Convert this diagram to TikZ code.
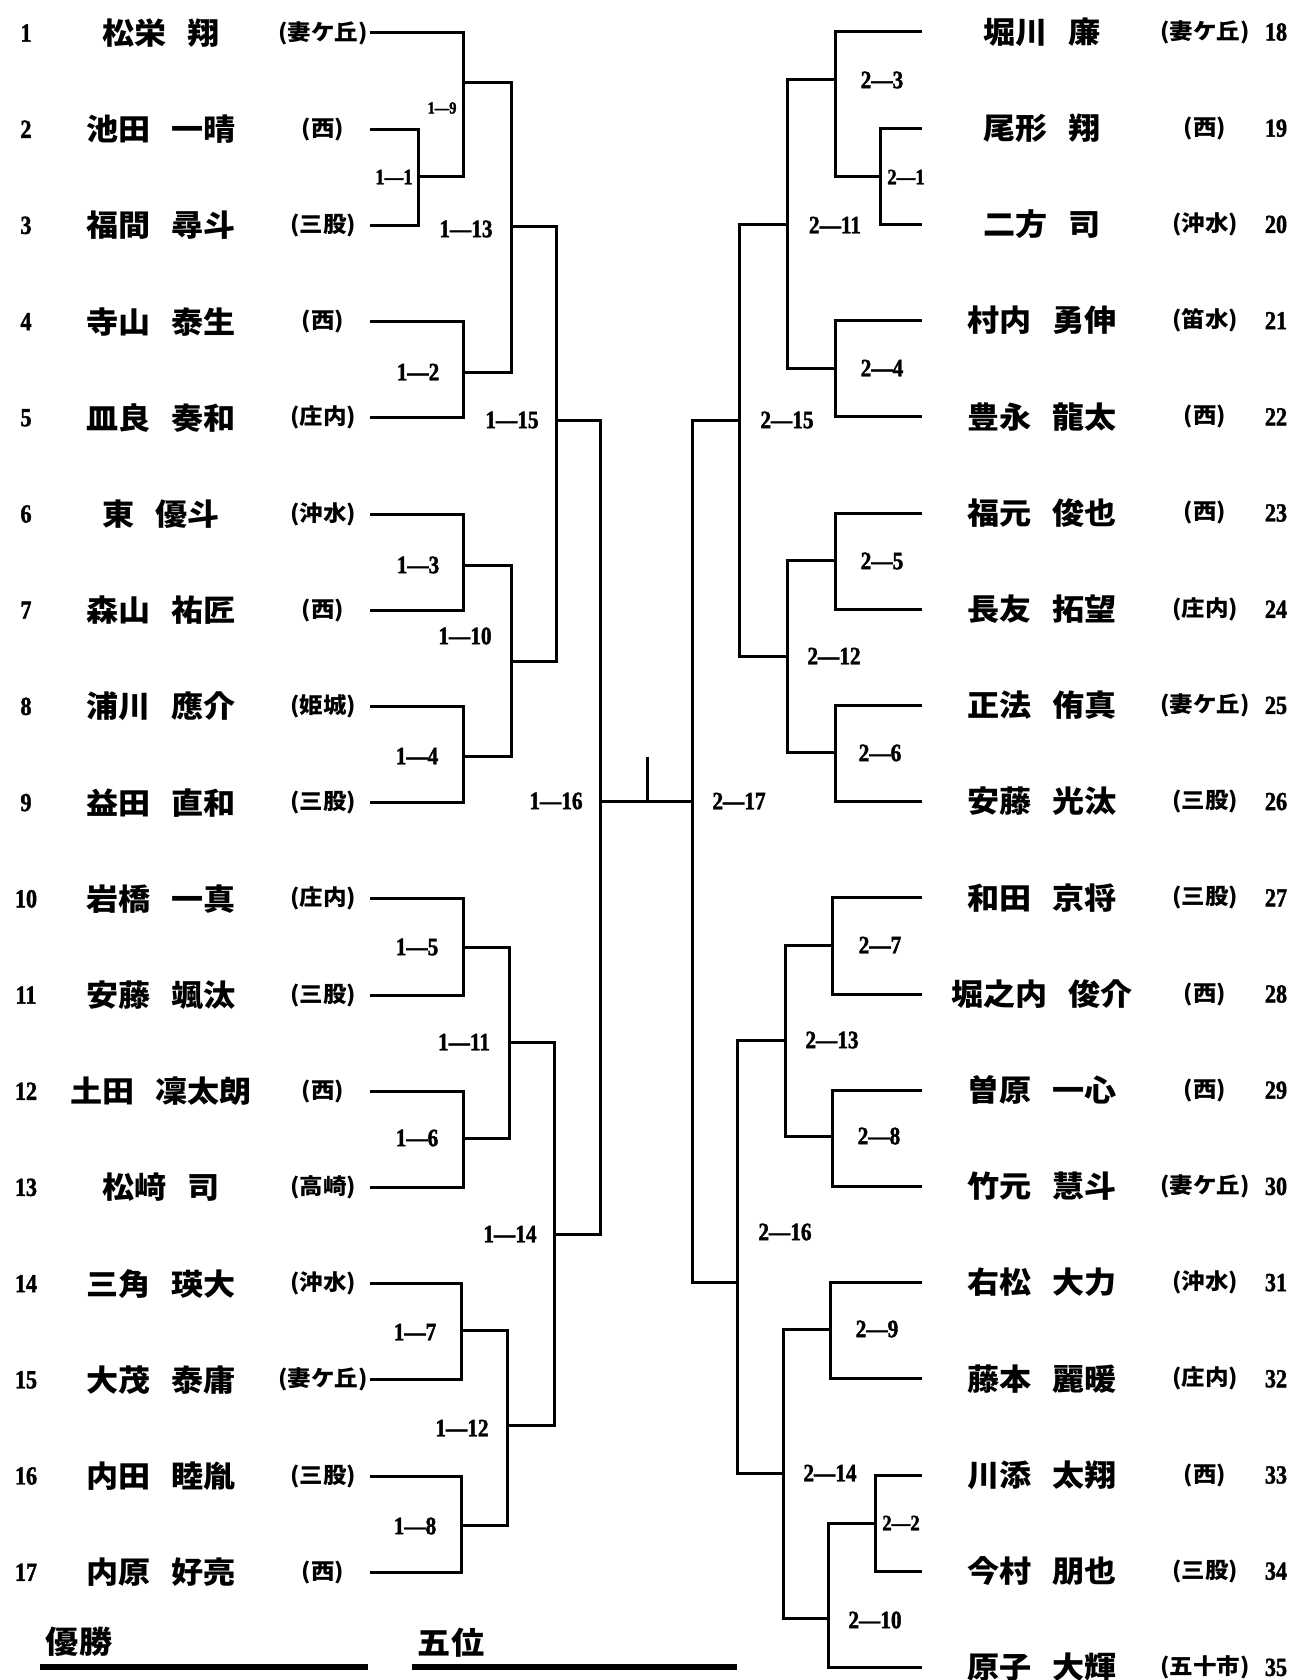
\documentclass[tikz,border=0pt]{standalone}
\usepackage{fontspec}
\newfontfamily\jp{Noto Sans CJK JP}[FakeStretch=1.07]
\newfontfamily\numf{Liberation Serif}[UprightFont={* Bold}, FakeStretch=0.85, FakeBold=1.6]
\newcommand\gp{\hspace{0.7em}}
\begin{document}
\begin{tikzpicture}[x=0.5pt,y=-0.5pt,
  br/.style={line width=1.5pt},
  nm/.style={font=\jp\bfseries\fontsize{15pt}{15pt}\selectfont, inner sep=0},
  sc/.style={font=\jp\bfseries\fontsize{11pt}{11pt}\selectfont, inner sep=0},
  num/.style={font=\numf\fontsize{13pt}{13pt}\selectfont, inner sep=0},
  lab/.style={font=\numf\fontsize{12.5pt}{12.5pt}\selectfont, inner sep=0},
  mlab/.style={font=\numf\fontsize{11pt}{11pt}\selectfont, inner sep=0},
  slab/.style={font=\numf\fontsize{8.5pt}{8.5pt}\selectfont, inner sep=0},
  ttl/.style={font=\jp\bfseries\fontsize{15.5pt}{15.5pt}\selectfont, inner sep=0},
  uline/.style={line width=2.6pt}]
\fill[white] (0,0) rectangle (1291,1680);
\useasboundingbox (0,0) rectangle (1291,1680);

% ---------- left entries ----------
\foreach \i/\n/\s in {1/松栄\gp 翔/妻ケ丘, 2/池田\gp 一晴/西, 3/福間\gp 尋斗/三股,
  4/寺山\gp 泰生/西, 5/皿良\gp 奏和/庄内, 6/東\gp 優斗/沖水, 7/森山\gp 祐匠/西,
  8/浦川\gp 應介/姫城, 9/益田\gp 直和/三股, 10/岩橋\gp 一真/庄内, 11/安藤\gp 颯汰/三股,
  12/土田\gp 凜太朗/西, 13/松﨑\gp 司/高崎, 14/三角\gp 瑛大/沖水, 15/大茂\gp 泰庸/妻ケ丘,
  16/内田\gp 睦胤/三股, 17/内原\gp 好亮/西}{
  \pgfmathsetmacro\yy{33+(\i-1)*96.2}
  \node[num] (no\i) at (26,\yy) {\i};
  \node[nm] (n\i) at (161,\yy) {\n};
  \node[sc] (s\i) at (323,\yy) {(\s)};
  \coordinate (L\i) at (370,\yy);
}
% ---------- right entries ----------
\foreach \i/\n/\s in {18/堀川\gp 廉/妻ケ丘, 19/尾形\gp 翔/西, 20/二方\gp 司/沖水,
  21/村内\gp 勇伸/笛水, 22/豊永\gp 龍太/西, 23/福元\gp 俊也/西, 24/長友\gp 拓望/庄内,
  25/正法\gp 侑真/妻ケ丘, 26/安藤\gp 光汰/三股, 27/和田\gp 京将/三股, 28/堀之内\gp 俊介/西,
  29/曽原\gp 一心/西, 30/竹元\gp 慧斗/妻ケ丘, 31/右松\gp 大力/沖水, 32/藤本\gp 麗暖/庄内,
  33/川添\gp 太翔/西, 34/今村\gp 朋也/三股, 35/原子\gp 大輝/五十市}{
  \pgfmathsetmacro\yy{32+(\i-18)*96.2}
  \node[nm] (n\i) at (1042,\yy) {\n};
  \node[sc] (s\i) at (1205,\yy) {(\s)};
  \node[num] (no\i) at (1276,\yy) {\i};
  \coordinate (R\i) at (922,\yy);
}

% ---------- match points (vertical x, output y) ----------
\coordinate (m1-1) at (418,177);
\coordinate (m1-9) at (463,83);
\coordinate (m1-2) at (463,372);
\coordinate (m1-13) at (511,227);
\coordinate (m1-3) at (463,565);
\coordinate (m1-4) at (463,756);
\coordinate (m1-10) at (511,661);
\coordinate (m1-15) at (556,420);
\coordinate (m1-5) at (463,947);
\coordinate (m1-6) at (463,1138);
\coordinate (m1-11) at (509,1042);
\coordinate (m1-7) at (461,1330);
\coordinate (m1-8) at (461,1525);
\coordinate (m1-12) at (507,1425);
\coordinate (m1-14) at (554,1234);
\coordinate (m1-16) at (600,801);

\coordinate (m2-1) at (880,177);
\coordinate (m2-3) at (835,80);
\coordinate (m2-4) at (835,368);
\coordinate (m2-11) at (787,225);
\coordinate (m2-5) at (835,560);
\coordinate (m2-6) at (835,752);
\coordinate (m2-12) at (787,656);
\coordinate (m2-15) at (739,420);
\coordinate (m2-7) at (832,945);
\coordinate (m2-8) at (832,1136);
\coordinate (m2-13) at (785,1040);
\coordinate (m2-9) at (830,1329);
\coordinate (m2-2) at (875,1523);
\coordinate (m2-10) at (828,1618);
\coordinate (m2-14) at (783,1473);
\coordinate (m2-16) at (737,1282);
\coordinate (m2-17) at (692,801);
\coordinate (tick) at (647,757);

% ---------- bracket lines ----------
\foreach \a/\m in {L2/m1-1, L3/m1-1, L1/m1-9, m1-1/m1-9, L4/m1-2, L5/m1-2,
  m1-9/m1-13, m1-2/m1-13, L6/m1-3, L7/m1-3, L8/m1-4, L9/m1-4, m1-3/m1-10, m1-4/m1-10,
  m1-13/m1-15, m1-10/m1-15, L10/m1-5, L11/m1-5, L12/m1-6, L13/m1-6, m1-5/m1-11, m1-6/m1-11,
  L14/m1-7, L15/m1-7, L16/m1-8, L17/m1-8, m1-7/m1-12, m1-8/m1-12, m1-11/m1-14, m1-12/m1-14,
  m1-15/m1-16, m1-14/m1-16,
  R19/m2-1, R20/m2-1, R18/m2-3, m2-1/m2-3, R21/m2-4, R22/m2-4, m2-3/m2-11, m2-4/m2-11,
  R23/m2-5, R24/m2-5, R25/m2-6, R26/m2-6, m2-5/m2-12, m2-6/m2-12, m2-11/m2-15, m2-12/m2-15,
  R27/m2-7, R28/m2-7, R29/m2-8, R30/m2-8, m2-7/m2-13, m2-8/m2-13,
  R31/m2-9, R32/m2-9, R33/m2-2, R34/m2-2, m2-2/m2-10, R35/m2-10, m2-9/m2-14, m2-10/m2-14,
  m2-13/m2-16, m2-14/m2-16, m2-15/m2-17, m2-16/m2-17}{
  \draw[br] (\a) -| (\m);
}
\draw[br] (m1-16) -- (m2-17);
\draw[br] (tick) -- (tick |- m1-16);

% ---------- match labels ----------
\node[mlab] (l1-1) at (394,177) {1—1};
\node[slab] (l1-9) at (442,108) {1—9};
\foreach \p/\q/\x/\y in {1/2/418/372, 1/13/466/229, 1/3/418/565, 1/4/417/756, 1/10/465/636,
  1/15/512/420, 1/5/417/947, 1/6/417/1138, 1/11/464/1042, 1/7/415/1332, 1/8/415/1526,
  1/12/462/1428, 1/14/510/1234, 1/16/556/801,
  2/3/882/80, 2/4/882/368, 2/11/835/225, 2/5/882/561, 2/6/880/753, 2/12/834/656,
  2/15/787/420, 2/7/880/945, 2/8/879/1136, 2/13/832/1040, 2/9/877/1329, 2/10/875/1620,
  2/14/830/1473, 2/16/785/1232, 2/17/739/801}{
  \node[lab] (l\p-\q) at (\x,\y) {\p—\q};
}
\begin{scope}
  \clip (860,150) rectangle (929,205);
  \node[mlab] (l2-1) at (906,177) {2—1};
\end{scope}
\begin{scope}
  \clip (860,1495) rectangle (924,1550);
  \node[mlab] (l2-2) at (901,1523) {2—2};
\end{scope}

% ---------- footer ----------
\node[ttl] (win) at (79,1642) {優勝};
\coordinate (u1a) at (40,1667);
\coordinate (u1b) at (368,1667);
\draw[uline] (u1a) -- (u1b);
\node[ttl] (fifth) at (451,1643) {五位};
\coordinate (u2a) at (412,1667);
\coordinate (u2b) at (737,1667);
\draw[uline] (u2a) -- (u2b);
\end{tikzpicture}
\end{document}
